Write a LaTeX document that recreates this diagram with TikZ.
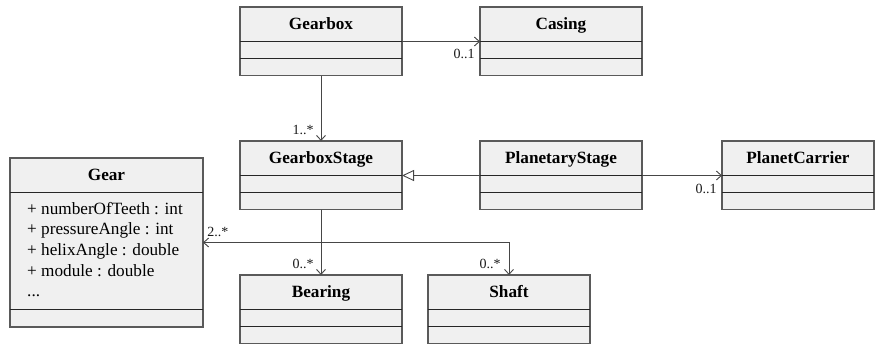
\documentclass[tikz,border=0pt]{standalone}
\usepackage{fontspec}
\setmainfont{Liberation Serif}
\usetikzlibrary{calc,arrows.meta}

\definecolor{boxfill}{RGB}{240,240,240}
\definecolor{boxline}{RGB}{90,90,90}
\definecolor{wire}{RGB}{70,70,70}

\tikzset{
  classbox/.style={draw=boxline, fill=boxfill, line width=1.1pt, rectangle,
    inner sep=0pt, outer sep=0pt, anchor=north west},
  classtitle/.style={font=\fontsize{17.2}{19}\selectfont\bfseries, inner sep=0pt, anchor=base},
  sepline/.style={draw=black!85, line width=0.9pt},
  attr/.style={font=\fontsize{17.2}{19}\selectfont, inner sep=0pt, anchor=base west},
  assoc/.style={draw=wire, line width=0.9pt, -{Straight Barb[length=5pt,width=9pt]}},
  inherit/.style={draw=wire, line width=0.9pt, -{Triangle[open,length=12pt,width=11pt,fill=white]}},
  mult/.style={font=\fontsize{14}{16}\selectfont, inner sep=0pt, text=black!90}
}

% class box: name, left, top, width, title
\newcommand\umlclass[5]{%
  \node[classbox, minimum width=#4pt, minimum height=68.7pt] (#1) at (#2,#3) {};
  \node[classtitle] (#1-title) at ($(#1.north)+(0,22.5)$) {#5};
  \coordinate (#1-w) at ($(#1.north west)+(0,34.5)$);
  \coordinate (#1-e) at ($(#1.north east)+(0,34.5)$);
  \draw[sepline] (#1-w) -- (#1-e);
  \draw[sepline] ($(#1.north west)+(0,51.7)$) -- ($(#1.north east)+(0,51.7)$);
}

\begin{document}
\begin{tikzpicture}[x=1pt,y=-1pt]
\useasboundingbox (0,0) rectangle (875,346);

\umlclass{gearbox}{240}{7}{162}{Gearbox}
\umlclass{casing}{480}{7}{162}{Casing}
\umlclass{stage}{240}{141}{162}{GearboxStage}
\umlclass{planetary}{480}{141}{162}{PlanetaryStage}
\umlclass{carrier}{722}{141}{152}{PlanetCarrier}
\umlclass{bearing}{240}{275}{162}{Bearing}
\umlclass{shaft}{428}{275}{162}{Shaft}

% Gear with its attribute list
\node[classbox, minimum width=193pt, minimum height=169pt] (gear) at (10,158) {};
\node[classtitle] (gear-title) at ($(gear.north)+(0,22.3)$) {Gear};
\draw[sepline] ($(gear.north west)+(0,34)$) -- ($(gear.north east)+(0,34)$);
\draw[sepline] ($(gear.north west)+(0,151)$) -- ($(gear.north east)+(0,151)$);
\node[attr] (gear-a1) at (27,214.0) {+ numberOfTeeth : int};
\node[attr] (gear-a2) at (27,234.7) {+ pressureAngle : int};
\node[attr] (gear-a3) at (27,255.4) {+ helixAngle : double};
\node[attr] (gear-a4) at (27,276.1) {+ module : double};
\node[attr] (gear-a5) at (27,296.8) {...};

% associations
\draw[assoc] (gearbox-e) -- (casing-w)
  node[mult, pos=1, anchor=base east, xshift=-5pt, yshift=-16.5pt] {0..1};
\draw[assoc] (gearbox.south) -- (stage.north)
  node[mult, pos=1, anchor=base east, xshift=-7pt, yshift=7pt] {1..*};
\draw[inherit] (planetary-w) -- (stage-e);
\draw[assoc] (planetary-e) -- (carrier-w)
  node[mult, pos=1, anchor=base east, xshift=-5pt, yshift=-18pt] {0..1};
\draw[assoc] (stage.south) |- (gear.east)
  node[mult, pos=1, anchor=base west, xshift=4pt, yshift=6pt] {2..*};
\draw[assoc] (stage.south) -- (stage.south |- gear.east) -| (shaft.north)
  node[mult, pos=1, anchor=base east, xshift=-8pt, yshift=7pt] {0..*};
\draw[assoc] (stage.south) -- (bearing.north)
  node[mult, pos=1, anchor=base east, xshift=-7pt, yshift=7pt] {0..*};
\end{tikzpicture}
\end{document}
